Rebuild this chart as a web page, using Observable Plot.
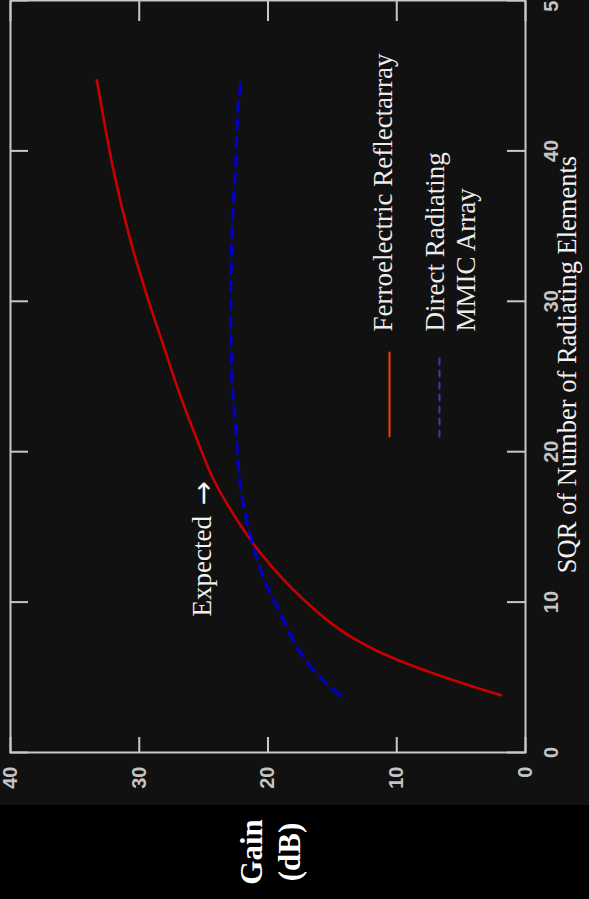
<!DOCTYPE html>
<html>
<head>
<meta charset="utf-8">
<script src="https://cdn.jsdelivr.net/npm/d3@7"></script>
<script src="https://cdn.jsdelivr.net/npm/@observablehq/plot@0.6"></script>
<style>
  html, body { margin: 0; padding: 0; background: #000; overflow: hidden; width: 589px; height: 899px; }
  #rot { position: absolute; left: 0; top: 0; width: 899px; height: 589px;
         transform-origin: 0 0; transform: translate(0px, 899px) rotate(-90deg); }
  #side { position: absolute; left: 0; top: 0; width: 94px; height: 589px; background: #000; }
  #ylabel { position: absolute; left: 0; width: 94px; top: 233px; text-align: center;
            font-family: "Liberation Serif", "Times New Roman", serif; font-weight: bold;
            font-size: 31px; line-height: 38px; color: #fff; }
  #plot { position: absolute; left: 94px; top: 0; width: 805px; height: 589px; background: #111; }
  #plot svg { display: block; }
</style>
</head>
<body>
<div id="rot">
  <div id="side"><div id="ylabel">Gain<br>(dB)</div></div>
  <div id="plot"></div>
</div>
<script>
// ---- data ----
const sqrTicks = [0, 10, 20, 30, 40, 50];
const gainTicks = [0, 10, 20, 30, 40];

const ferroSqr  = [3.8, 4.3, 4.8, 5.3, 5.8, 6.7, 7.6, 8.6, 9.3, 10.3, 11.5, 13.5, 16.0, 18.1, 21.0, 23.7, 27.0, 30.1, 34.1, 38.7, 42.3, 44.7];
const ferroGain = [1.9, 3.8, 5.6, 7.3, 8.9, 11.4, 13.4, 15.1, 16.1, 17.4, 18.8, 20.8, 22.8, 24.2, 25.6, 26.8, 28.1, 29.3, 30.7, 32.0, 32.8, 33.3];

const mmicSqr  = [3.8, 5.3, 6.7, 9.2, 11.5, 13.9, 16.4, 19.0, 21.5, 24.8, 29.6, 34.5, 39.4, 43.1, 44.6];
const mmicGain = [14.4, 16.3, 17.5, 19.0, 20.3, 21.2, 21.9, 22.3, 22.5, 22.8, 22.9, 22.8, 22.5, 22.3, 22.1];

const seriesNames = ["Ferroelectric Reflectarray", "Direct Radiating", "MMIC Array"];
const xLabel = "SQR of Number of Radiating Elements";
const annotation = "Expected";
const arrow = "\u2192";

// ---- build ----
const ferro = ferroSqr.map((x, i) => ({x, y: ferroGain[i]}));
const mmic = mmicSqr.map((x, i) => ({x, y: mmicGain[i]}));

const W = 805, H = 589, mL = 52, mR = 1, mT = 10, mB = 64;
const iW = W - mL - mR, iH = H - mT - mB;
const frameColor = "#c8c8c8";
const tickFont = {fontFamily: "'Liberation Sans Narrow', 'Liberation Sans', Arial, sans-serif", fontSize: 20, fontWeight: "bold", fill: "#c4c4c4"};
const serif = "'Liberation Serif', 'Times New Roman', serif";
const lineShape = {draw(ctx, l) { ctx.moveTo(0, 0); ctx.lineTo(0, -l); }};

const chart = Plot.plot({
  width: W, height: H,
  marginLeft: mL, marginRight: mR, marginTop: mT, marginBottom: mB,
  style: {background: "#111", overflow: "visible"},
  x: {domain: [0, 50]},
  y: {domain: [0, 40]},
  marks: [
    Plot.axisX(sqrTicks, {tickSize: 0, tickPadding: 18, label: null, ...tickFont}),
    Plot.axisY(gainTicks, {tickSize: 0, tickPadding: 14, label: null, ...tickFont}),
    Plot.line(ferro, {x: "x", y: "y", stroke: "#c80000", strokeWidth: 2.6, curve: "monotone-x"}),
    Plot.line(mmic, {x: "x", y: "y", stroke: "#0000c8", strokeWidth: 3.2, strokeDasharray: "10,8", curve: "monotone-x"}),
    Plot.frame({stroke: frameColor, strokeWidth: 2}),
    Plot.tickX(sqrTicks, {x: d => d, insetTop: iH - 18, stroke: frameColor, strokeWidth: 2}),
    Plot.tickX(sqrTicks, {x: d => d, insetBottom: iH - 18, stroke: frameColor, strokeWidth: 2}),
    Plot.tickY(gainTicks, {y: d => d, insetRight: iW - 16, stroke: frameColor, strokeWidth: 2}),
    Plot.tickY(gainTicks, {y: d => d, insetLeft: iW - 20, stroke: frameColor, strokeWidth: 2}),
    // legend swatches
    Plot.vector([0], {frameAnchor: "top-left", dx: 316, dy: 379, length: 84, rotate: 90, anchor: "start", shape: lineShape, stroke: "#ff3a00", strokeWidth: 2}),
    Plot.vector([0], {frameAnchor: "top-left", dx: 316, dy: 429, length: 80, rotate: 90, anchor: "start", shape: lineShape, stroke: "#3a3ab4", strokeWidth: 2, strokeDasharray: "6,6"}),
    // legend text
    Plot.text([seriesNames[0]], {frameAnchor: "top-left", dx: 421, dy: 362, textAnchor: "start", fontFamily: serif, fontSize: 27, fill: "#ececec"}),
    Plot.text([seriesNames[1]], {frameAnchor: "top-left", dx: 421, dy: 414, textAnchor: "start", fontFamily: serif, fontSize: 27, fill: "#ececec"}),
    Plot.text([seriesNames[2]], {frameAnchor: "top-left", dx: 421, dy: 445, textAnchor: "start", fontFamily: serif, fontSize: 27, fill: "#ececec"}),
    // annotation
    Plot.text([annotation], {frameAnchor: "top-left", dx: 136, dy: 181, textAnchor: "start", fontFamily: serif, fontSize: 27, fill: "#f2f2f2"}),
    Plot.text([arrow], {frameAnchor: "top-left", dx: 247, dy: 182, textAnchor: "start", fontFamily: "'DejaVu Sans', sans-serif", fontSize: 29, fill: "#f2f2f2"}),
    // x axis title
    Plot.text([xLabel], {frameAnchor: "bottom", dx: 12, dy: 50, fontFamily: serif, fontSize: 26.5, fill: "#f2f2f2"})
  ]
});
document.getElementById("plot").appendChild(chart);
</script>
</body>
</html>
